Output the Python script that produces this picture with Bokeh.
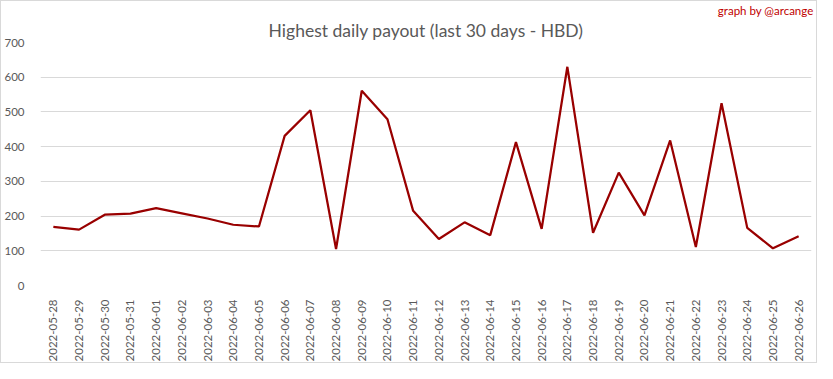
from bokeh.plotting import figure
from bokeh.models import Title, FixedTicker, FactorRange, Range1d
from bokeh.embed import file_html
from bokeh.resources import INLINE
import math

dates = ["2022-05-28", "2022-05-29", "2022-05-30", "2022-05-31", "2022-06-01",
         "2022-06-02", "2022-06-03", "2022-06-04", "2022-06-05", "2022-06-06",
         "2022-06-07", "2022-06-08", "2022-06-09", "2022-06-10", "2022-06-11",
         "2022-06-12", "2022-06-13", "2022-06-14", "2022-06-15", "2022-06-16",
         "2022-06-17", "2022-06-18", "2022-06-19", "2022-06-20", "2022-06-21",
         "2022-06-22", "2022-06-23", "2022-06-24", "2022-06-25", "2022-06-26"]
payout = [169, 161, 204, 207, 223, 208, 193, 175, 170, 431,
          505, 105, 561, 479, 215, 134, 182, 145, 413, 163,
          630, 152, 325, 202, 418, 111, 525, 166, 107, 142]
y_ticks = [0, 100, 200, 300, 400, 500, 600, 700]

FONT = "Lato"
GREY = "#595959"

W, H = 817, 363
BL, BR, BT, BB = 31, 7, 41, 65

p = figure(width=W, height=H, x_range=FactorRange(*dates), y_range=Range1d(0, 700),
           output_backend="svg", toolbar_location=None,
           min_border_left=BL, min_border_right=BR, min_border_top=BT, min_border_bottom=BB)
p.styles = {"border": "1px solid #d9d9d9", "box-sizing": "border-box"}
p.outline_line_color = None
p.background_fill_color = "white"
p.border_fill_color = "white"

p.line(x=dates, y=payout, line_color="#990000", line_width=2.25)

p.xgrid.grid_line_color = None
p.ygrid.grid_line_color = "#d9d9d9"
p.ygrid.grid_line_width = 1
p.yaxis.ticker = FixedTicker(ticks=y_ticks)

for ax in (p.xaxis[0], p.yaxis[0]):
    ax.axis_line_color = None
    ax.major_tick_line_color = None
    ax.minor_tick_line_color = None
    ax.major_label_text_font = FONT
    ax.major_label_text_font_size = "11.5px"
    ax.major_label_text_color = GREY

p.xaxis.major_label_orientation = math.pi / 2
p.xaxis.major_label_standoff = 8
p.yaxis.major_label_standoff = 10

# outer (top) line: credit
p.title.text = "graph by @arcange"
p.title.align = "right"
p.title.text_font = FONT
p.title.text_font_size = "11.5px"
p.title.text_font_style = "normal"
p.title.text_color = "#c00000"
p.title.offset = -2
p.title.standoff = 0

# inner line: main title
p.add_layout(Title(text="Highest daily payout (last 30 days - HBD)", align="center",
                   text_font=FONT, text_font_size="17.5px", text_font_style="normal",
                   text_color=GREY, offset=-BL / 2, standoff=3), "above")

open("out.html", "w").write(file_html(p, INLINE))
